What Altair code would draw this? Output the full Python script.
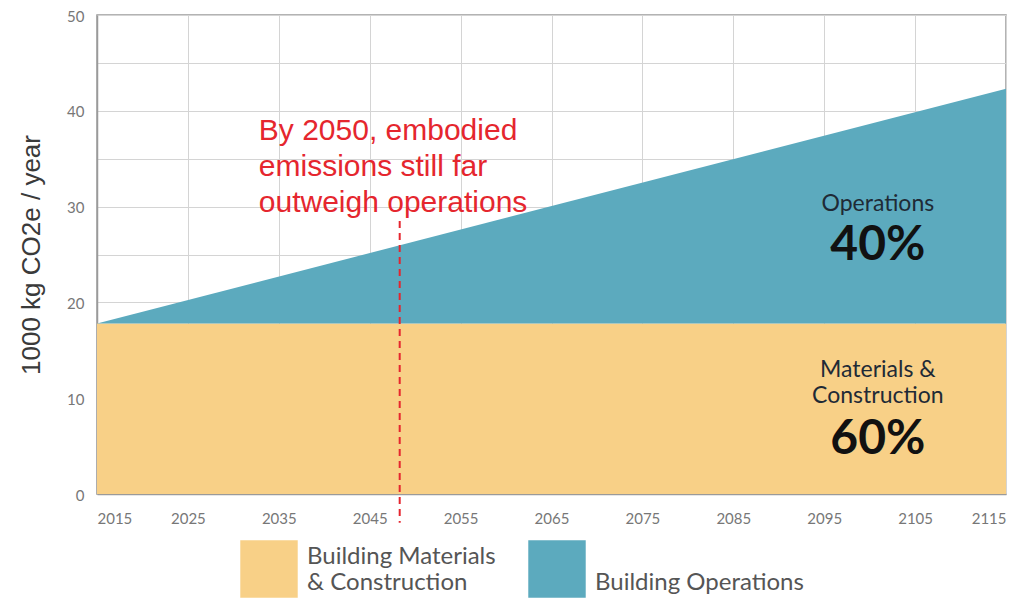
import altair as alt
import pandas as pd

# ---- data ----
years = [2015, 2115]
materials = [17.8, 17.8]
operations = [0.0, 24.5]
series_names = ["Building Materials & Construction", "Building Operations"]
series_colors = ["#f8d087", "#5caabe"]

x_ticks = list(range(2015, 2116, 10))
y_grid = list(range(0, 51, 5))

annotation_lines = ["By 2050, embodied", "emissions still far", "outweigh operations"]
annotation_year = 2032.8
annotation_value = 37.0

marker_year = 2048.3
marker_top = 28.5
marker_bottom = -3.0

label_year = 2100.9
label_texts = ["Operations", "40%", "Materials &", "Construction", "60%"]
label_values = [30.3, 25.9, 12.9, 10.2, 5.6]
label_bold = [False, True, False, False, True]

# ---- tables ----
rows = []
for i, yr in enumerate(years):
    rows.append({"year": yr, "value": materials[i], "series": series_names[0], "ord": 0})
    rows.append({"year": yr, "value": operations[i], "series": series_names[1], "ord": 1})
area_df = pd.DataFrame(rows)

x_scale = alt.Scale(domain=[2015, 2115], nice=False, zero=False)
y_scale = alt.Scale(domain=[0, 50], nice=False)

area = alt.Chart(area_df).mark_area(opacity=1).encode(
    x=alt.X("year:Q", scale=x_scale,
            axis=alt.Axis(values=x_ticks, format="d", title=None, grid=True,
                          gridColor="#d4d4d4", tickSize=0, labelPadding=17,
                          labelFont="Lato", labelFontSize=15, labelColor="#777",
                          domainColor="#9a9a9a", domainWidth=1.5)),
    y=alt.Y("value:Q", stack="zero", scale=y_scale,
            axis=alt.Axis(values=y_grid, title="1000 kg CO2e / year",
                          labelExpr="datum.value % 10 == 0 ? datum.label : ''",
                          grid=True, gridColor="#d4d4d4", tickSize=0, labelPadding=13,
                          labelOffset=1,
                          labelFont="Lato", labelFontSize=15, labelColor="#777",
                          domainColor="#9a9a9a", domainWidth=1.5,
                          titleFont="Liberation Sans", titleFontSize=26,
                          titleFontWeight="normal", titleColor="#3a3a3a",
                          titlePadding=22)),
    color=alt.Color("series:N",
                    scale=alt.Scale(domain=series_names, range=series_colors),
                    legend=alt.Legend(
                        title=None, orient="none", direction="horizontal",
                        legendX=143, legendY=525, columns=2, gridAlign="none",
                        symbolType="square", symbolSize=3300, symbolStrokeWidth=0,
                        symbolOpacity=1,
                        labelFont="Lato", labelFontSize=24, labelColor="#555",
                        labelBaseline="bottom",
                        labelOffset=9, columnPadding=32, labelLimit=400,
                        labelExpr="datum.label == 'Building Materials & Construction' ? ['Building Materials', '& Construction'] : ['\u00a0', datum.label]")),
    order=alt.Order("ord:Q"),
)

ann_df = pd.DataFrame({"year": [annotation_year], "value": [annotation_value],
                       "text": ["\n".join(annotation_lines)]})
annotation = alt.Chart(ann_df).mark_text(
    align="left", baseline="alphabetic", font="Liberation Sans", fontSize=30,
    color="#e5262e", lineBreak="\n", lineHeight=36
).encode(x=alt.X("year:Q", scale=x_scale), y=alt.Y("value:Q", scale=y_scale),
         text="text:N")

rule_df = pd.DataFrame({"year": [marker_year], "top": [marker_top], "bottom": [marker_bottom]})
rule = alt.Chart(rule_df).mark_rule(color="#e5262e", strokeWidth=2, strokeDash=[7, 5]).encode(
    x=alt.X("year:Q", scale=x_scale), y=alt.Y("top:Q", scale=y_scale), y2="bottom:Q")

lab_df = pd.DataFrame({"year": [label_year] * len(label_texts), "value": label_values,
                       "text": label_texts, "bold": label_bold})
labels_normal = alt.Chart(lab_df[~lab_df["bold"]]).mark_text(
    align="center", baseline="middle", font="Lato", fontSize=23, color="#1f2a36"
).encode(x=alt.X("year:Q", scale=x_scale), y=alt.Y("value:Q", scale=y_scale), text="text:N")
labels_bold = alt.Chart(lab_df[lab_df["bold"]]).mark_text(
    align="center", baseline="middle", font="Lato", fontSize=48, fontWeight="bold",
    color="#111111"
).encode(x=alt.X("year:Q", scale=x_scale), y=alt.Y("value:Q", scale=y_scale), text="text:N")

chart = alt.layer(area, rule, annotation, labels_normal, labels_bold).properties(
    width=909, height=479,
    autosize=alt.AutoSizeParams(type="none"),
    padding={"left": 89, "top": 7, "right": 21, "bottom": 104},
).configure_view(stroke="#9a9a9a", strokeWidth=1.5)

chart.save("out.html", embed_options={"renderer": "svg", "actions": False})
